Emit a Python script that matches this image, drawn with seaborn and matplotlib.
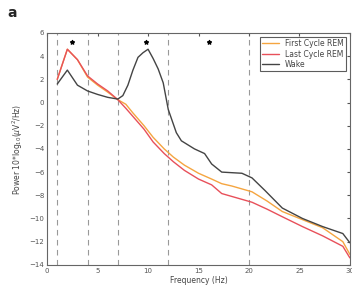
import numpy as np
import pandas as pd
import seaborn as sns
import matplotlib
matplotlib.use("Agg")
import matplotlib.pyplot as plt

# values (frequency in Hz, power in dB)
freq_first = [1, 2, 3, 4, 5, 6, 7, 7.8, 8.5, 9.6, 10.5, 11.6, 12.5, 13.6, 15, 16.3, 17.3, 18.3, 20.3, 21.8, 23.3, 25.3, 27.3, 29.3, 30]
first_rem = [2.0, 4.6, 3.7, 2.2, 1.5, 0.9, 0.25, -0.15, -0.9, -2.0, -3.0, -4.0, -4.7, -5.4, -6.1, -6.6, -7.0, -7.2, -7.7, -8.5, -9.4, -10.1, -10.8, -12.0, -13.1]
last_rem = [2.0, 4.6, 3.7, 2.3, 1.6, 1.0, 0.25, -0.5, -1.2, -2.3, -3.4, -4.4, -5.1, -5.85, -6.6, -7.1, -7.85, -8.1, -8.6, -9.2, -9.85, -10.7, -11.5, -12.4, -13.4]
freq_wake = [1, 2, 3, 4, 5, 6, 7, 7.5, 8, 8.5, 9, 9.5, 10, 10.5, 11, 11.5, 12, 12.8, 13.3, 14.6, 15.6, 16.3, 17.3, 19.3, 20.3, 21.6, 23.3, 25.3, 27.3, 29.3, 30]
wake = [1.6, 2.8, 1.5, 1.0, 0.7, 0.45, 0.3, 0.6, 1.5, 2.8, 3.9, 4.3, 4.6, 3.8, 2.9, 1.7, -0.6, -2.6, -3.3, -4.0, -4.4, -5.3, -6.0, -6.1, -6.5, -7.6, -9.1, -10.0, -10.7, -11.3, -12.1]

band_edges = [1, 4, 7, 12, 20]
star_freqs = [2.5, 9.8, 16]
star_level = 5.2

df = pd.concat([
    pd.DataFrame({"Frequency": freq_first, "Power": first_rem, "State": "First Cycle REM"}),
    pd.DataFrame({"Frequency": freq_first, "Power": last_rem, "State": "Last Cycle REM"}),
    pd.DataFrame({"Frequency": freq_wake, "Power": wake, "State": "Wake"}),
])

sns.set_style("white")
plt.rcParams['font.family'] = ['DejaVu Sans']

fig = plt.figure(figsize=(3.52, 2.92), dpi=100)
ax = fig.add_axes([0.134, 0.093, 0.86, 0.794])

palette = {"First Cycle REM": "#f5a540", "Last Cycle REM": "#e8505a", "Wake": "#444444"}
sns.lineplot(ax=ax, data=df, x="Frequency", y="Power", hue="State", palette=palette, lw=1.0, sort=True)

for f in band_edges:
    ax.axvline(f, color="#999999", ls=(0, (5, 4)), lw=0.8, zorder=0)

ax.scatter(star_freqs, [star_level] * len(star_freqs), marker="*", s=8, color="black", zorder=5)

ax.set_xlim(0, 30)
ax.set_ylim(-14, 6)
ax.set_xticks(range(0, 31, 5))
ax.set_yticks(range(-14, 7, 2))
ax.tick_params(direction="in", length=2.5, labelsize=5, colors="#555555", top=True, right=True, pad=2)
for s in ax.spines.values():
    s.set_color("#666666")
    s.set_linewidth(0.8)

ax.set_xlabel("Frequency (Hz)", fontsize=5.5, color="#444444", labelpad=2)
ax.set_ylabel(r"Power 10*log$_{10}$($\mu$V$^2$/Hz)", fontsize=5.5, color="#444444", labelpad=3)

leg = ax.legend(loc="upper right", fontsize=5.5, frameon=True, fancybox=False, handlelength=2.2,
                borderpad=0.3, labelspacing=0.2, borderaxespad=0.5)
leg.get_frame().set_edgecolor("#333333")
leg.get_frame().set_linewidth(0.8)
for t in leg.get_texts():
    t.set_color("#444444")

fig.text(0.02, 0.955, "a", fontsize=10, fontweight="bold", va="center")

fig.savefig("out.png", dpi=100)
